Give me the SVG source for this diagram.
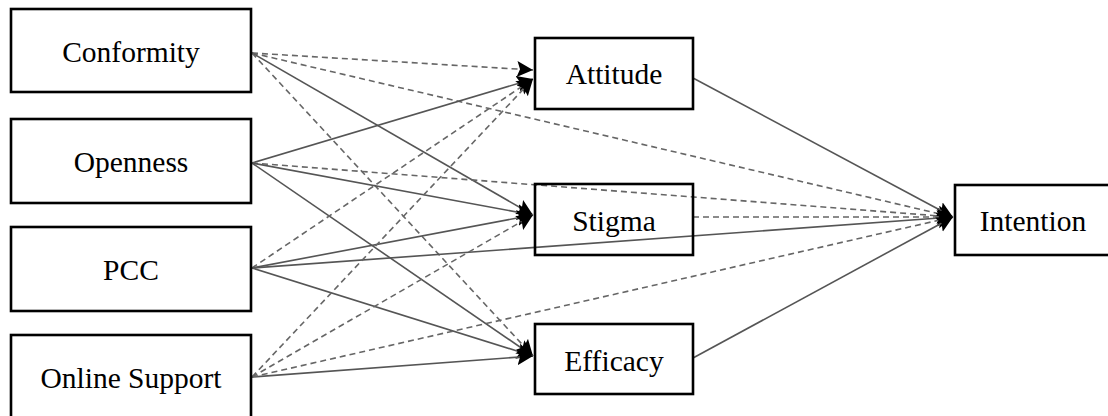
<svg xmlns="http://www.w3.org/2000/svg" width="1108" height="416" viewBox="0 0 1108 416">
<style>
.box{fill:none;stroke:#000;stroke-width:2.6}
.lbl{font-family:"Liberation Serif","Times New Roman",serif;font-size:29.5px;fill:#000;text-anchor:middle}
.s{stroke:#555;stroke-width:1.6;fill:none;marker-end:url(#ah)}
.d{stroke:#666;stroke-width:1.6;fill:none;stroke-dasharray:6 4;marker-end:url(#ah)}
</style>
<defs>
<marker id="ah" markerUnits="userSpaceOnUse" markerWidth="18" markerHeight="18" refX="16" refY="8" orient="auto">
<path d="M0,0 L16,8 L0,16 L3,8 z" fill="#000"/>
</marker>
</defs>
<rect width="1108" height="416" fill="#fff"/>
<g id="connectors">
<line class="d" x1="252" y1="53" x2="533" y2="70"/>
<line class="d" x1="252" y1="53" x2="953" y2="217"/>
<line class="s" x1="252" y1="53" x2="533" y2="215"/>
<line class="d" x1="252" y1="53" x2="533" y2="356"/>
<line class="s" x1="252" y1="163" x2="533" y2="79"/>
<line class="d" x1="252" y1="163" x2="953" y2="217"/>
<line class="s" x1="252" y1="163" x2="533" y2="215"/>
<line class="s" x1="252" y1="163" x2="533" y2="356"/>
<line class="d" x1="252" y1="268" x2="533" y2="79"/>
<line class="s" x1="252" y1="268" x2="533" y2="215"/>
<line class="s" x1="252" y1="268" x2="953" y2="217"/>
<line class="s" x1="252" y1="268" x2="533" y2="356"/>
<line class="d" x1="252" y1="377" x2="533" y2="79"/>
<line class="d" x1="252" y1="377" x2="533" y2="215"/>
<line class="s" x1="252" y1="377" x2="533" y2="356"/>
<line class="d" x1="252" y1="377" x2="953" y2="217"/>
<line class="s" x1="693" y1="78" x2="953" y2="217"/>
<line class="d" x1="693" y1="217" x2="953" y2="217"/>
<line class="s" x1="693" y1="358" x2="953" y2="217"/>
</g>
<g id="conformity"><rect class="box" x="11" y="9" width="240" height="83"/><text class="lbl" x="131" y="62">Conformity</text></g>
<g id="openness"><rect class="box" x="11" y="119" width="240" height="84"/><text class="lbl" x="131" y="172">Openness</text></g>
<g id="pcc"><rect class="box" x="11" y="227" width="240" height="84"/><text class="lbl" x="131" y="280">PCC</text></g>
<g id="online-support"><rect class="box" x="11" y="335" width="240" height="90"/><text class="lbl" x="131" y="388">Online Support</text></g>
<g id="attitude"><rect class="box" x="535" y="38" width="158" height="71"/><text class="lbl" x="614" y="84">Attitude</text></g>
<g id="stigma"><rect class="box" x="535" y="184" width="158" height="71"/><text class="lbl" x="614" y="231">Stigma</text></g>
<g id="efficacy"><rect class="box" x="535" y="324" width="158" height="70"/><text class="lbl" x="614" y="371">Efficacy</text></g>
<g id="intention"><rect class="box" x="955" y="185" width="160" height="70"/><text class="lbl" x="1033" y="231">Intention</text></g>
</svg>
